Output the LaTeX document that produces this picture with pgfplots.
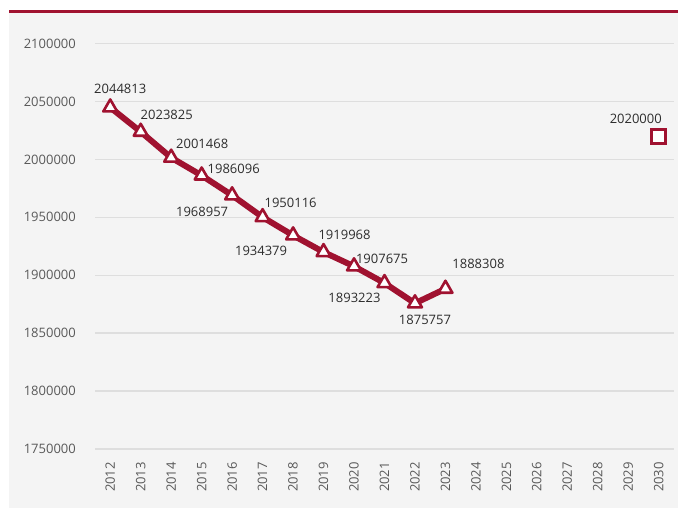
\documentclass[border=0pt]{standalone}
\usepackage{fontspec}
\setmainfont{Open Sans}
\usepackage{pgfplots}
\usepackage{pgfplotstable}
\pgfplotsset{compat=1.18}

\definecolor{wine}{RGB}{160,18,48}
\definecolor{panel}{RGB}{244,244,244}
\definecolor{gridc}{RGB}{222,222,222}
\definecolor{tickc}{RGB}{89,89,89}
\definecolor{labc}{RGB}{45,45,45}

% year, value, label offset (dx, dy in bp)
\pgfplotstableread{
x y dx dy
2012 2044813 10 19
2013 2023825 26 17
2014 2001468 31 14
2015 1986096 32 7
2016 1968957 -30 -17
2017 1950116 28 14
2018 1934379 -32 -15
2019 1919968 21 17
2020 1907675 28 7
2021 1893223 -30 -15
2022 1875757 10 -17
2023 1888308 33 25
}\actual

\pgfplotstableread{
x y dx dy
2030 2020000 -23 17
}\target

\begin{document}
\begin{tikzpicture}
\useasboundingbox (0,0) rectangle (678bp,509bp);
\fill[panel] (9bp,1bp) rectangle (678bp,499bp);
\draw[wine, line width=3bp] (9bp,497.5bp) -- (678bp,497.5bp);
\begin{axis}[
  at={(95bp,60bp)}, anchor=south west,
  scale only axis, width=579bp, height=405.5bp,
  xmin=2011.5, xmax=2030.5, ymin=1750000, ymax=2100000,
  xtick={2012,...,2030}, ytick={1750000,1800000,...,2100000},
  scaled ticks=false,
  axis line style={draw=none}, major tick length=0pt,
  ymajorgrids, grid style={gridc, line width=1.3bp},
  /pgf/number format/.cd, fixed, 1000 sep={}, assume math mode=true,
  /pgfplots/.cd,
  ticklabel style={font=\fontsize{13bp}{15bp}\selectfont, text=tickc},
  yticklabel style={inner sep=0pt, xshift=-19bp},
  xticklabel style={rotate=90, anchor=east, inner sep=0pt},
  xticklabel shift=13bp,
  point meta=explicit symbolic,
  visualization depends on={\thisrow{dx} \as \dx},
  visualization depends on={\thisrow{dy} \as \dy},
  nodes near coords,
  nodes near coords style={anchor=center, xshift=\dx bp, yshift=\dy bp,
    font=\fontsize{13bp}{15bp}\selectfont, text=labc, inner sep=0pt},
  clip=false,
]
\addplot[wine, line width=6bp, line join=round,
  mark=triangle*, mark size=8bp,
  mark options={fill=white, draw=wine, line width=2.6bp, solid}]
  table[x=x, y=y, meta=y] {\actual};
\addplot[only marks, mark=square*, mark size=7bp,
  mark options={fill=white, draw=wine, line width=2.7bp}]
  table[x=x, y=y, meta=y] {\target};
\end{axis}
\end{tikzpicture}
\end{document}
